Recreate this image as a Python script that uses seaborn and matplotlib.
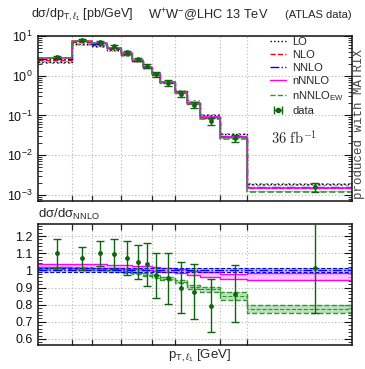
import numpy as np
import pandas as pd
import matplotlib
matplotlib.use("Agg")
import matplotlib.pyplot as plt
import matplotlib.ticker as mticker
from matplotlib.lines import Line2D
from matplotlib.legend_handler import HandlerLine2D
import seaborn as sns

# bins in p_T of the leading lepton [GeV]
edges = [27, 40, 50, 60, 70, 80, 90, 100, 110, 130, 150, 175, 220, 300, 1000]
centers = [33.5, 45, 55, 65, 75, 85, 95, 105, 120, 140, 162.5, 197.5, 260, 650]

# NNLO cross section [pb/GeV]
nnlo = [2.70, 7.40, 6.45, 5.00, 3.63, 2.46, 1.68, 1.14, 0.70, 0.39, 0.211, 0.092, 0.0304, 0.00155]
nnlo_unc = [0.012, 0.012, 0.012, 0.012, 0.012, 0.012, 0.012, 0.012, 0.012, 0.012, 0.012, 0.012, 0.012, 0.012]

# other predictions relative to NNLO
lo_ratio = [0.81, 0.85, 0.87, 0.89, 0.91, 0.93, 0.95, 0.97, 1.0, 1.03, 1.06, 1.09, 1.13, 1.18]
lo_unc = [0.09, 0.09, 0.09, 0.09, 0.09, 0.085, 0.085, 0.08, 0.08, 0.075, 0.07, 0.07, 0.065, 0.06]
nlo_ratio = [0.94, 0.94, 0.935, 0.93, 0.93, 0.93, 0.93, 0.93, 0.93, 0.93, 0.935, 0.94, 0.95, 0.96]
nn_ratio = [1.028, 1.026, 1.024, 1.022, 1.019, 1.016, 1.013, 1.01, 1.002, 0.995, 0.985, 0.975, 0.963, 0.963]
nn_unc = [0.011, 0.011, 0.011, 0.011, 0.011, 0.011, 0.011, 0.011, 0.01, 0.012, 0.013, 0.013, 0.015, 0.019]
ew_ratio = [1.015, 1.012, 1.008, 1.0, 0.99, 0.985, 0.975, 0.965, 0.952, 0.934, 0.905, 0.89, 0.85, 0.775]
ew_unc = [0.006, 0.006, 0.006, 0.007, 0.007, 0.008, 0.008, 0.009, 0.01, 0.01, 0.012, 0.015, 0.022, 0.025]

# ATLAS data relative to NNLO
data_ratio = [1.10, 1.07, 1.10, 1.095, 1.07, 1.05, 1.035, 0.97, 0.953, 0.90, 0.876, 0.794, 0.864, 1.015]
data_err = [0.085, 0.066, 0.072, 0.085, 0.10, 0.10, 0.127, 0.133, 0.15, 0.15, 0.16, 0.154, 0.167, 0.265]

xticks = [40, 50, 70, 100, 130, 220, 300]

LO_C = "black"
NLO_C = "#ff0000"
NNLO_C = "#0000ff"
NN_C = "#ff00ff"
EW_C = "#2e9a2e"
DATA_C = "#0f650f"

sns.set_style("ticks")
plt.rcParams["font.family"] = ["Liberation Sans", "DejaVu Sans"]
plt.rcParams["mathtext.fontset"] = "custom"
plt.rcParams["mathtext.rm"] = "Liberation Sans"
plt.rcParams["mathtext.it"] = "Liberation Sans:italic"
plt.rcParams["mathtext.bf"] = "Liberation Sans:bold"
plt.rcParams["hatch.linewidth"] = 0.6
plt.rcParams["hatch.color"] = "#777777"

nnlo_a = np.array(nnlo)


def step_vals(v):
    v = list(v)
    return v + [v[-1]]


def steps(ax, vals, **kw):
    df = pd.DataFrame({"x": edges, "y": step_vals(vals)})
    sns.lineplot(data=df, x="x", y="y", ax=ax, drawstyle="steps-post",
                 estimator=None, sort=False, legend=False, **kw)


def band(ax, lo, hi, **kw):
    ax.fill_between(edges, step_vals(lo), step_vals(hi), step="post", lw=0, **kw)


fig = plt.figure(figsize=(3.65, 3.69), dpi=100)
W, H = 365, 369
ax1 = fig.add_axes([38 / W, 168 / H, 314 / W, 165 / H])
ax2 = fig.add_axes([38 / W, 24 / H, 314 / W, 121 / H])

for ax in (ax1, ax2):
    ax.set_xscale("log")

# ---- main panel ----
ax1.set_yscale("log")
lo_c = nnlo_a * np.array(lo_ratio)
band(ax1, lo_c * (1 - np.array(lo_unc)), lo_c * (1 + np.array(lo_unc)),
     facecolor="none", hatch="xxxxxx", edgecolor="#888888")
band(ax1, nnlo_a * (1 - np.array(nnlo_unc)), nnlo_a * (1 + np.array(nnlo_unc)),
     color="#a0a0ff", alpha=0.6)
nn_c = nnlo_a * np.array(nn_ratio)
band(ax1, nn_c * (1 - np.array(nn_unc)), nn_c * (1 + np.array(nn_unc)),
     color="#ff99ff", alpha=0.7)
ew_c = nnlo_a * np.array(ew_ratio)
band(ax1, ew_c * (1 - np.array(ew_unc)), ew_c * (1 + np.array(ew_unc)),
     color="#7cc47c", alpha=0.7)

steps(ax1, lo_c, color=LO_C, linestyle=":", lw=1)
steps(ax1, nnlo_a * np.array(nlo_ratio), color=NLO_C, linestyle="--", lw=1)
steps(ax1, nnlo_a, color=NNLO_C, linestyle="-.", lw=1)
steps(ax1, nn_c, color=NN_C, linestyle="-", lw=1.2)
steps(ax1, ew_c, color=EW_C, linestyle="--", lw=1.2)

data_abs = nnlo_a * np.array(data_ratio)
data_abs_err = nnlo_a * np.array(data_err)
ax1.errorbar(centers, data_abs, yerr=data_abs_err, fmt="none", ecolor=DATA_C,
             elinewidth=1, capsize=2.8, capthick=1, zorder=5)
sns.scatterplot(x=centers, y=data_abs, ax=ax1, color=DATA_C, s=12,
                edgecolor=DATA_C, linewidth=0, zorder=6)

ax1.set_ylim(7e-4, 10)

# ---- ratio panel ----
band(ax2, 1 - np.array(nnlo_unc), 1 + np.array(nnlo_unc), color="#9a9aff", alpha=0.6)
nn_lo = np.array(nn_ratio) - np.array(nn_unc)
nn_hi = np.array(nn_ratio) + np.array(nn_unc)
band(ax2, nn_lo, nn_hi, color="#ffaaff", alpha=0.7)
ew_lo = np.array(ew_ratio) - np.array(ew_unc)
ew_hi = np.array(ew_ratio) + np.array(ew_unc)
band(ax2, ew_lo, ew_hi, color="#8fcf8f", alpha=0.6)

steps(ax2, nn_lo, color=NN_C, linestyle="-", lw=1)
steps(ax2, nn_hi, color=NN_C, linestyle="-", lw=1)
steps(ax2, ew_lo, color=EW_C, linestyle="--", lw=1)
steps(ax2, ew_hi, color=EW_C, linestyle="--", lw=1)
steps(ax2, ew_ratio, color=EW_C, linestyle="--", lw=0.8)
steps(ax2, 1 - np.array(nnlo_unc), color=NNLO_C, linestyle="--", lw=0.8)
steps(ax2, 1 + np.array(nnlo_unc), color=NNLO_C, linestyle="--", lw=0.8)
steps(ax2, [1.0] * len(nnlo), color=NNLO_C, linestyle="-.", lw=1)

ax2.errorbar(centers, data_ratio, yerr=data_err, fmt="none", ecolor=DATA_C,
             elinewidth=1, capsize=2.8, capthick=1, zorder=5)
sns.scatterplot(x=centers, y=data_ratio, ax=ax2, color=DATA_C, s=12,
                edgecolor=DATA_C, linewidth=0, zorder=6)

ax2.set_ylim(0.565, 1.27)
ax2.yaxis.set_major_locator(mticker.MultipleLocator(0.1))
ax2.yaxis.set_minor_locator(mticker.MultipleLocator(0.02))
ax2.yaxis.set_major_formatter(mticker.FuncFormatter(lambda v, p: f"{v:g}"))

# ---- axes cosmetics ----
grid_kw = dict(color="#b5b5b5", linestyle=(0, (1, 2)), lw=0.8)
for ax in (ax1, ax2):
    ax.set_xlim(27, 1000)
    ax.xaxis.set_major_locator(mticker.FixedLocator(xticks))
    ax.xaxis.set_minor_locator(mticker.NullLocator())
    ax.xaxis.set_major_formatter(mticker.NullFormatter())
    ax.xaxis.set_minor_formatter(mticker.NullFormatter())
    ax.grid(True, which="major", **grid_kw)
    ax.set_axisbelow(True)
    ax.set_ylabel("")
    ax.set_xlabel("")
    for s in ax.spines.values():
        s.set_linewidth(1.1)
        s.set_color("#111111")
    ax.tick_params(axis="y", which="both", direction="in", left=True, right=True,
                   labelsize=9, colors="#111111", pad=4)
    ax.tick_params(axis="y", which="major", length=5.5, width=0.8)
    ax.tick_params(axis="y", which="minor", length=2.8, width=0.6)
    ax.tick_params(axis="x", which="major", direction="in", length=4.5, width=0.9)

ax1.tick_params(axis="x", top=False, bottom=True)
ax2.tick_params(axis="x", top=True, bottom=True)
ax1.yaxis.set_major_locator(mticker.LogLocator(base=10, numticks=10))
ax1.yaxis.set_minor_locator(mticker.LogLocator(base=10, subs=np.arange(2, 10), numticks=20))

# ---- legend ----
h_lo = Line2D([], [], color=LO_C, ls=":", lw=1)
h_nlo = Line2D([], [], color=NLO_C, ls="--", lw=1)
h_nnlo = Line2D([], [], color=NNLO_C, ls="-.", lw=1)
h_nn = Line2D([], [], color=NN_C, ls="-", lw=1)
h_ew = Line2D([], [], color=EW_C, ls="--", lw=1)
h_bar = Line2D([], [], color=DATA_C, lw=1, marker="|", ms=6, mew=1)
h_dot = Line2D([], [], color=DATA_C, ls="none", marker="o", ms=3)
ax1.legend([h_lo, h_nlo, h_nnlo, h_nn, h_ew, (h_bar, h_dot)],
           ["LO", "NLO", "NNLO", "nNNLO", r"nNNLO$_{\mathrm{EW}}$", "data"],
           handler_map={h_bar: HandlerLine2D(numpoints=2), h_dot: HandlerLine2D(numpoints=1)},
           loc="upper left", bbox_to_anchor=((268 - 38) / 314, 1.01),
           frameon=False, fontsize=8, handlelength=1.4, handletextpad=0.6,
           labelspacing=0.28, borderpad=0.2, borderaxespad=0)

# ---- texts ----
fig.text(31 / W, 1 - 15 / H, r"dσ/dp$_{\mathrm{T},\ell_{1}}$ [pb/GeV]",
         ha="left", va="center", fontsize=9)
fig.text(268 / W, 1 - 15 / H, r"W$^{+}$W$^{-}$@LHC 13 TeV",
         ha="right", va="center", fontsize=9.2)
fig.text(352 / W, 1 - 15 / H, "(ATLAS data)", ha="right", va="center", fontsize=8)
fig.text(38 / W, 1 - 214 / H, r"dσ/dσ$_{\mathrm{NNLO}}$", ha="left", va="center",
         fontsize=9.5)
fig.text(271 / W, 1 - 138 / H, r"$36\ \mathrm{fb}^{-1}$", ha="left", va="center",
         fontsize=10.5, math_fontfamily="cm")
fig.text(359 / W, 1 - 124 / H, "produced with MATRIX", rotation=90,
         family="Liberation Mono", fontsize=9, color="#444444",
         ha="center", va="center")
fig.text(200 / W, 1 - 356 / H, r"p$_{\mathrm{T},\ell_{1}}$ [GeV]",
         ha="center", va="center", fontsize=9.5)

fig.savefig("out.png", dpi=100)
